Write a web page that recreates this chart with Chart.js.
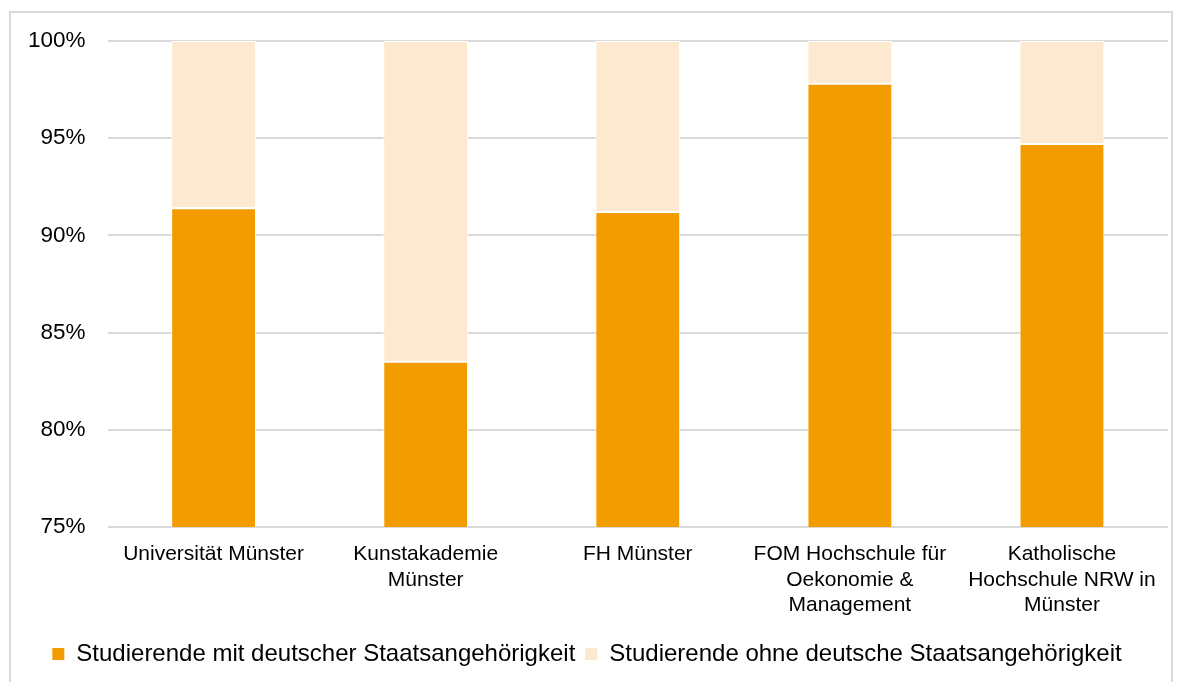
<!DOCTYPE html>
<html>
<head>
<meta charset="utf-8">
<script src="https://cdn.jsdelivr.net/npm/chart.js@4"></script>
<style>
  html, body { margin: 0; padding: 0; background: #fff; }
  #frame { position: absolute; left: 9px; top: 11px; width: 1164px; height: 700px; border: 2px solid #d9d9d9; box-sizing: border-box; }
  #wrap { position: absolute; left: 0; top: 0; width: 1184px; height: 682px; }
</style>
</head>
<body>
<div id="frame"></div>
<div id="wrap"><canvas id="chart"></canvas></div>
<script>
var categories = [
    'Universität Münster',
    ['Kunstakademie', 'Münster'],
    'FH Münster',
    ['FOM Hochschule für', 'Oekonomie &', 'Management'],
    ['Katholische', 'Hochschule NRW in', 'Münster']
];
var seriesNames = ['Studierende mit deutscher Staatsangehörigkeit', 'Studierende ohne deutsche Staatsangehörigkeit'];
var mitDeutscher = [91.4, 83.5, 91.2, 97.8, 94.7];
var ohneDeutsche = [8.6, 16.5, 8.8, 2.2, 5.3];

var font = "'Liberation Sans', Arial, sans-serif";

var config = {
    type: 'bar',
    data: {
        labels: categories,
        datasets: [{
            label: seriesNames[0],
            data: mitDeutscher,
            backgroundColor: '#f39c00',
            borderColor: '#ffffff',
            borderWidth: 1,
            borderSkipped: false
        }, {
            label: seriesNames[1],
            data: ohneDeutsche,
            backgroundColor: '#fde9cf',
            borderColor: '#ffffff',
            borderWidth: 1,
            borderSkipped: false
        }]
    },
    options: {
        responsive: true,
        maintainAspectRatio: false,
        animation: false,
        datasets: { bar: { categoryPercentage: 1, barPercentage: 0.4 } },
        layout: { padding: { top: 41, left: 6, right: 16, bottom: 6 } },
        scales: {
            x: {
                stacked: true,
                grid: { display: false },
                border: { display: false },
                ticks: { color: '#000', font: { family: font, size: 21, lineHeight: 1.2 }, maxRotation: 0, autoSkip: false, padding: 7 },
                afterFit: function (scale) { scale.height = 105; }
            },
            y: {
                stacked: true,
                min: 75,
                max: 100,
                grid: { color: '#d9d9d9', lineWidth: 2, drawTicks: false },
                border: { display: false },
                ticks: {
                    stepSize: 5,
                    color: '#000',
                    padding: 22,
                    font: { family: font, size: 22.5 },
                    callback: function (v) { return v + '%'; }
                }
            }
        },
        plugins: {
            legend: {
                position: 'bottom',
                labels: {
                    color: '#000',
                    boxWidth: 12,
                    boxHeight: 12,
                    padding: 10,
                    font: { family: font, size: 24 },
                    generateLabels: function (chart) {
                        return chart.data.datasets.map(function (ds, i) {
                            return { text: ds.label, fillStyle: ds.backgroundColor, strokeStyle: ds.backgroundColor, lineWidth: 0, datasetIndex: i, fontColor: '#000' };
                        });
                    }
                }
            },
            tooltip: { enabled: false }
        }
    }
};

var ctx = document.getElementById('chart').getContext('2d');
new Chart(ctx, config);
</script>
</body>
</html>
